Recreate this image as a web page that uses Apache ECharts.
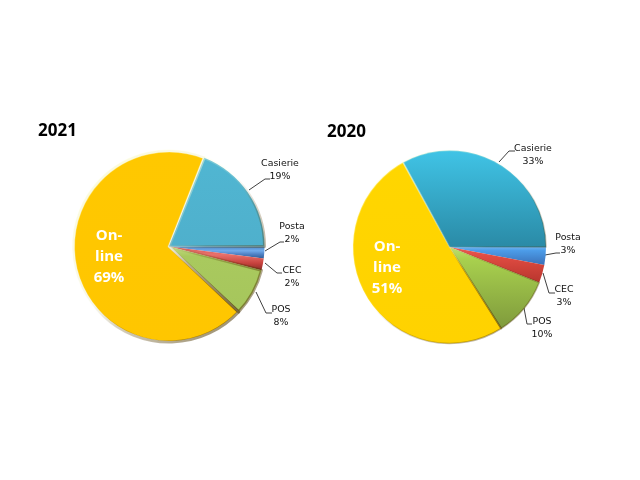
<!DOCTYPE html>
<html><head><meta charset="utf-8">
<style>html,body{margin:0;padding:0;background:#fff}#c{width:640px;height:480px}</style>
<script src="https://cdn.jsdelivr.net/npm/echarts@6/dist/echarts.min.js"></script>
</head><body><div id="c"></div>
<script>
const categories = ['Posta', 'CEC', 'POS', 'On-line', 'Casierie'];
const values2021 = [2, 2, 8, 69, 19];
const values2020 = [3, 3, 10, 51, 33];
const years = ['2021', '2020'];

const grad = (...stops) => new echarts.graphic.LinearGradient(0, 0, 0, 1, stops.map(c => ({offset: c[1], color: c[0]})));
const fills2021 = [
  grad(['#4f8ac8', 0], ['#70aaea', 0.35], ['#4f81c4', 0.65], ['#2f5c96', 1]),
  grad(['#d8605a', 0], ['#e8706a', 0.35], ['#c8423e', 0.7], ['#8c2c28', 1]),
  grad(['#c4dc80', 0], ['#a9c95e', 0.15], ['#a6c65c', 1]),
  grad(['#ffc800', 0], ['#ffc600', 1]),
  grad(['#50b6d2', 0], ['#4fb0cc', 1])
];
const fills2020 = [
  grad(['#6cb4f0', 0], ['#4c9ce8', 0.2], ['#3a70b8', 1]),
  grad(['#e85e54', 0], ['#e04c42', 0.25], ['#b8352e', 1]),
  grad(['#c0e070', 0], ['#a8d04e', 0.15], ['#7f9a3c', 1]),
  grad(['#ffd600', 0], ['#ffd200', 1]),
  grad(['#40c4e6', 0], ['#2a8aa6', 1])
];

const labelPos = {
  2021: {'Posta': [292, 233], 'CEC': [292, 277], 'POS': [281, 316], 'On-line': [109, 257], 'Casierie': [280, 170]},
  2020: {'Posta': [568, 244], 'CEC': [564, 296], 'POS': [542, 328], 'On-line': [387, 268], 'Casierie': [533, 155]}
};
const leaderPts = {
  2021: {'Posta': [[265, 251], [280, 242], [284, 242]], 'CEC': [[265, 263], [277, 273], [282, 273]], 'POS': [[256, 292], [266, 313], [272, 313]], 'Casierie': [[249, 190], [265, 179], [270, 179]]},
  2020: {'Posta': [[545, 255], [556, 253], [560, 253]], 'CEC': [[543, 273], [549, 293], [555, 293]], 'POS': [[524, 308], [527, 324], [532, 324]], 'Casierie': [[499, 162], [509, 151], [515, 151]]}
};

function build(year, vals, fills, center, r, sep, bevel, width) {
  const base = {
    type: 'pie', name: year, center, radius: [0, r], startAngle: 0, clockwise: true, silent: true, animation: false,
    avoidLabelOverlap: false, z: 2,
    label: {show: true, position: 'outside', color: '#111', fontFamily: 'DejaVu Sans', fontSize: 9.4, lineHeight: 13.5, align: 'center',
      formatter: p => p.name + '\n' + p.value + '%'},
    labelLine: {show: true, lineStyle: {color: '#404040', width: 1}},
    labelLayout: p => {
      const n = categories[p.dataIndex], xy = labelPos[year][n];
      const o = {x: xy[0], y: xy[1], align: 'center', verticalAlign: 'middle', hideOverlap: false};
      if (leaderPts[year][n]) o.labelLinePoints = leaderPts[year][n];
      return o;
    },
    data: categories.map((n, i) => {
      const d = {name: n, value: vals[i], itemStyle: {color: fills[i]}};
      if (n === 'On-line') {
        d.itemStyle.borderColor = sep;
        d.itemStyle.borderWidth = sep === 'transparent' ? 0 : 2;
        d.label = {color: '#fff', fontFamily: 'Open Sans', fontWeight: 'bold', fontSize: 15, lineHeight: 21,
          formatter: p => 'On-\nline\n' + p.value + '%'};
        d.labelLine = {show: false};
      }
      return d;
    })
  };
  const bev = new echarts.graphic.LinearGradient(center[0] - r, center[1] - r, center[0] + r * 0.8, center[1] + r, [
    {offset: 0, color: `rgba(255,255,200,${bevel})`},
    {offset: 0.5, color: 'rgba(255,255,220,0.12)'},
    {offset: 0.62, color: 'rgba(90,60,0,0.2)'},
    {offset: 1, color: `rgba(70,50,0,${bevel})`}
  ], true);
  const overlay = {
    type: 'pie', center, radius: [0, r], startAngle: 0, clockwise: true, silent: true, animation: false, z: 3,
    label: {show: false}, labelLine: {show: false},
    data: categories.map((n, i) => ({name: n, value: vals[i],
      itemStyle: {color: 'transparent', borderColor: bev, borderWidth: vals[i] <= 3 ? 0 : width, borderJoin: 'round'}}))
  };
  return [base, overlay];
}

const chart = echarts.init(document.getElementById('c'), null, {renderer: 'canvas'});
chart.setOption({
  backgroundColor: '#fff',
  animation: false,
  title: [
    {text: years[0], left: 33, top: 118, textStyle: {fontFamily: 'Open Sans', fontWeight: 'bold', fontSize: 17, color: '#000'}},
    {text: years[1], left: 322, top: 119, textStyle: {fontFamily: 'Open Sans', fontWeight: 'bold', fontSize: 17, color: '#000'}}
  ],
  series: [
    ...build(years[0], values2021, fills2021, [169, 246.5], 95.5, '#f6f6ee', 0.6, 3),
    ...build(years[1], values2020, fills2020, [449.5, 247], 96.5, 'transparent', 0.45, 1.6)
  ]
});
</script></body></html>
